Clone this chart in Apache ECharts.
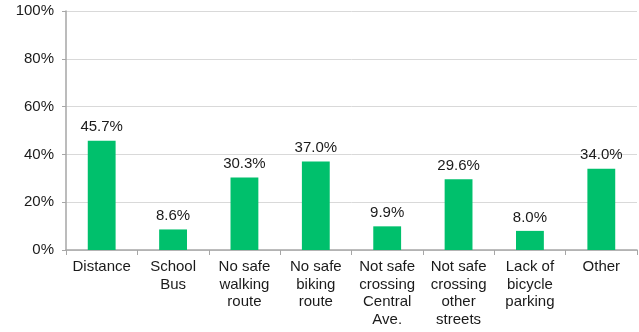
<!DOCTYPE html>
<html>
<head>
<meta charset="utf-8">
<script src="https://cdn.jsdelivr.net/npm/echarts@6/dist/echarts.min.js"></script>
<style>
  html, body { margin: 0; padding: 0; background: #fff; }
  #chart { width: 639px; height: 332px; }
</style>
</head>
<body>
<div id="chart"></div>
<script>
// Reasons reported for not walking or biking to school (percent of responses)
const categories = [
  'Distance',
  'School\nBus',
  'No safe\nwalking\nroute',
  'No safe\nbiking\nroute',
  'Not safe\ncrossing\nCentral\nAve.',
  'Not safe\ncrossing\nother\nstreets',
  'Lack of\nbicycle\nparking',
  'Other'
];
const values = [45.7, 8.6, 30.3, 37.0, 9.9, 29.6, 8.0, 34.0];
const yTicks = { min: 0, max: 100, interval: 20 };

const FONT = 'Liberation Sans, Arial, sans-serif';
const chart = echarts.init(document.getElementById('chart'), null, { renderer: 'canvas' });

chart.setOption({
  animation: false,
  backgroundColor: '#ffffff',
  grid: { left: 66, right: 2, top: 11, bottom: 82, containLabel: false },
  xAxis: {
    type: 'category',
    data: categories,
    boundaryGap: true,
    axisLine: { show: true, lineStyle: { color: '#a6a6a6', width: 1.5 } },
    axisTick: { show: true, length: 5, lineStyle: { color: '#a6a6a6' } },
    axisLabel: {
      interval: 0,
      margin: 8,
      color: '#1a1a1a',
      fontFamily: FONT,
      fontSize: 15,
      lineHeight: 17.7,
      align: 'center',
      verticalAlign: 'top'
    }
  },
  yAxis: {
    type: 'value',
    min: yTicks.min,
    max: yTicks.max,
    interval: yTicks.interval,
    axisLine: { show: true, lineStyle: { color: '#a6a6a6', width: 1.5 } },
    axisTick: { show: true, length: 4, lineStyle: { color: '#a6a6a6' } },
    splitLine: { show: true, lineStyle: { color: '#d9d9d9', width: 1 } },
    axisLabel: {
      formatter: '{value}%',
      margin: 12,
      color: '#1a1a1a',
      fontFamily: FONT,
      fontSize: 15
    }
  },
  series: [{
    type: 'bar',
    data: values,
    barWidth: '39%',
    itemStyle: { color: '#00c06c' },
    label: {
      show: true,
      position: 'top',
      distance: 6,
      color: '#1a1a1a',
      fontFamily: FONT,
      fontSize: 15,
      formatter: p => p.value.toFixed(1) + '%'
    }
  }]
});
</script>
</body>
</html>
